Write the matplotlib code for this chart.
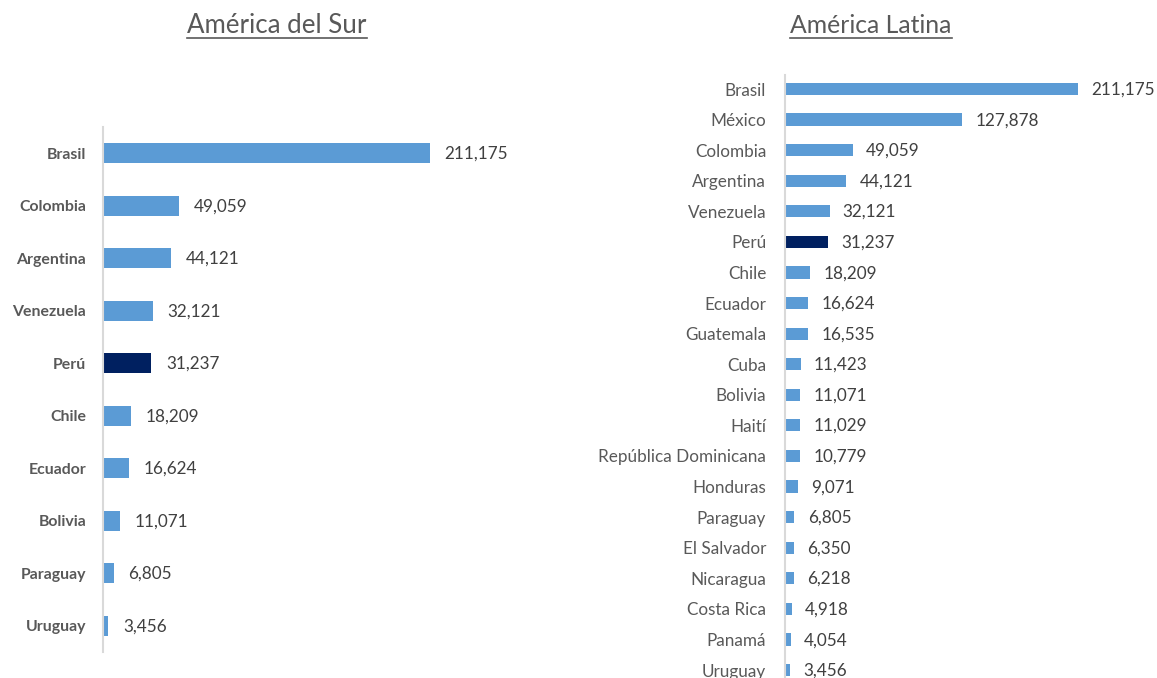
import matplotlib
matplotlib.use('Agg')
import matplotlib.pyplot as plt
from matplotlib.lines import Line2D

plt.rcParams['font.family'] = ['Lato', 'DejaVu Sans']

W, H = 1157, 678

# América del Sur
sur_paises = ['Brasil', 'Colombia', 'Argentina', 'Venezuela', 'Perú',
              'Chile', 'Ecuador', 'Bolivia', 'Paraguay', 'Uruguay']
sur_valores = [211175, 49059, 44121, 32121, 31237, 18209, 16624, 11071, 6805, 3456]

# América Latina
lat_paises = ['Brasil', 'México', 'Colombia', 'Argentina', 'Venezuela', 'Perú',
              'Chile', 'Ecuador', 'Guatemala', 'Cuba', 'Bolivia', 'Haití',
              'República Dominicana', 'Honduras', 'Paraguay', 'El Salvador',
              'Nicaragua', 'Costa Rica', 'Panamá', 'Uruguay']
lat_valores = [211175, 127878, 49059, 44121, 32121, 31237, 18209, 16624, 16535,
               11423, 11071, 11029, 10779, 9071, 6805, 6350, 6218, 4918, 4054, 3456]

AZUL = '#5B9BD5'
AZUL_OSC = '#002060'
GRIS_TXT = '#595959'
GRIS_VAL = '#404040'


def px_axes(x0, y0, x1, y1):
    # coordenadas en pixeles (origen arriba a la izquierda)
    return fig.add_axes([x0 / W, 1 - y1 / H, (x1 - x0) / W, (y1 - y0) / H])


def barras(ax, paises, valores, alto, bold, fs_lab, fs_val, xmax, ylim, pad, off):
    colores = [AZUL_OSC if p == 'Perú' else AZUL for p in paises]
    y = list(range(len(paises)))
    ax.barh(y, valores, height=alto, color=colores)
    ax.set_xlim(0, xmax)
    ax.set_ylim(*ylim)
    ax.set_yticks(y)
    ax.set_yticklabels(paises, fontsize=fs_lab, color=GRIS_TXT,
                       fontweight='bold' if bold else 'normal')
    ax.tick_params(axis='y', length=0, pad=pad)
    ax.set_xticks([])
    for s in ['top', 'right', 'bottom']:
        ax.spines[s].set_visible(False)
    ax.spines['left'].set_color('#D9D9D9')
    ax.spines['left'].set_linewidth(1.5)
    for yi, v in zip(y, valores):
        ax.annotate(f'{v:,}', (v, yi), xytext=(off, -0.5), textcoords='offset points',
                    va='center', ha='left', fontsize=fs_val, color=GRIS_VAL,
                    annotation_clip=False)


fig = plt.figure(figsize=(W / 100, H / 100), dpi=100)

ax1 = px_axes(103, 127, 560, 652)
barras(ax1, sur_paises, sur_valores, 0.38, True, 11.4, 12.3,
       211175 * 457 / 327, (9.5, -0.5), 12, 10.5)

ax2 = px_axes(785, 75, 1140, 678)
barras(ax2, lat_paises, lat_valores, 0.4, False, 12.3, 12.3,
       211175 * 355 / 293, (589 / 30.58, -14 / 30.58), 13.5, 9.5)

titulos = [('América del Sur', 277, 18.6), ('América Latina', 871, 17.8)]
fig.canvas.draw()
rend = fig.canvas.get_renderer()
for txt, xc, fs in titulos:
    t = fig.text(xc / W, 1 - 33 / H, txt, ha='center', va='baseline',
                 fontsize=fs, color=GRIS_TXT)
    bb = t.get_window_extent(renderer=rend)
    yl = 1 - 37.5 / H
    fig.add_artist(Line2D([bb.x0 / W, bb.x1 / W], [yl, yl], color=GRIS_TXT, lw=1.2))

fig.savefig('out.png', dpi=100)
